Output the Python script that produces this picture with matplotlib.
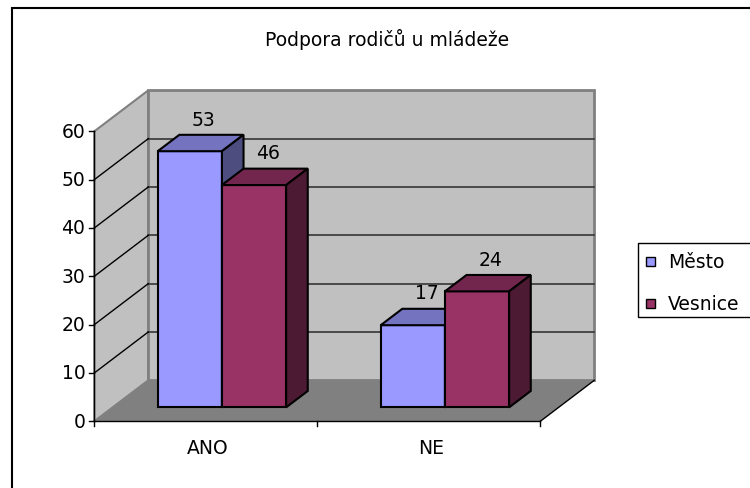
import matplotlib
matplotlib.use("Agg")
import matplotlib.pyplot as plt
from matplotlib.patches import Polygon, Rectangle
from matplotlib.lines import Line2D

# ---- data ----
title = "Podpora rodičů u mládeže"
categories = ["ANO", "NE"]
series_names = ["Město", "Vesnice"]
mesto = [53, 17]
vesnice = [46, 24]
y_ticks = [0, 10, 20, 30, 40, 50, 60]

front_colors = ["#9999FF", "#993366"]
top_colors = ["#7373BF", "#73264D"]
side_colors = ["#4D4D80", "#4D1A33"]

W, H = 750, 489
fig = plt.figure(figsize=(W / 100, H / 100), dpi=100)
ax = fig.add_axes([0, 0, 1, 1])

# pixel mapping of the front plane: x px = 94.3 + x*223 ; y px(from bottom) = 66.7 + v*4.833
px_x0, px_xs = 94.3, 223.0
px_y0, px_ys = 489 - 422.3, 4.833
ax.set_xlim(-px_x0 / px_xs, (W - px_x0) / px_xs)
ax.set_ylim(-px_y0 / px_ys, (H - px_y0) / px_ys)
ax.axis("off")

DX = 54 / px_xs   # full depth offset in x units
DY = 41 / px_ys   # full depth offset in value units
ymax = y_ticks[-1]
ncat = len(categories)


def P(x, y, d):
    return (x + d * DX, y + d * DY)


FS = 13.5
FONT = "DejaVu Sans"

# ---- walls ----
wall = "#C0C0C0"
edge = "#808080"
# left wall
ax.add_patch(Polygon([P(0, 0, 0), P(0, ymax, 0), P(0, ymax, 1), P(0, 0, 1)],
                     closed=True, fc=wall, ec=edge, lw=1.5, zorder=1))
# back wall
ax.add_patch(Polygon([P(0, 0, 1), P(ncat, 0, 1), P(ncat, ymax, 1), P(0, ymax, 1)],
                     closed=True, fc=wall, ec=edge, lw=2, zorder=1))
# floor
ax.add_patch(Polygon([P(0, 0, 0), P(ncat, 0, 0), P(ncat, 0, 1), P(0, 0, 1)],
                     closed=True, fc="#808080", ec="none", lw=0, zorder=1.5))
ax.plot(*zip(P(ncat, 0, 0), P(ncat, 0, 1)), color="black", lw=1, zorder=1.6)

# gridlines
for v in y_ticks[1:-1]:
    ax.plot(*zip(P(0, v, 1), P(ncat, v, 1)), color="#404040", lw=1.3, zorder=1.2)
for v in y_ticks[1:-1]:
    ax.plot(*zip(P(0, v, 0), P(0, v, 1)), color="black", lw=1, zorder=1.2)

# axes lines
ax.plot([0, 0], [0, ymax], color="black", lw=1, zorder=5)
ax.plot([0, ncat], [0, 0], color="black", lw=1, zorder=5)
tick_len_x = 5 / px_xs
tick_len_y = 5 / px_ys
for v in y_ticks:
    ax.plot([-tick_len_x, 0], [v, v], color="black", lw=1, zorder=5)
    ax.text(-9 / px_xs, v, str(v), ha="right", va="center", fontsize=FS,
            family=FONT, zorder=6)
for i in range(ncat + 1):
    ax.plot([i, i], [0, -tick_len_y], color="black", lw=1, zorder=5)
for i, c in enumerate(categories):
    ax.text(i + 0.51, -26 / px_ys, c, ha="center", va="center", fontsize=FS,
            family=FONT, zorder=6)

# ---- bars ----
bw = 0.288
d0, d1 = 0.34, 0.74
for i in range(ncat):
    center = i + 0.49
    for s, vals in enumerate([mesto, vesnice]):
        v = vals[i]
        x0 = center - bw + s * bw
        x1 = x0 + bw
        z = 10 + i * 3 + s
        ax.add_patch(Polygon([P(x0, 0, d0), P(x1, 0, d0), P(x1, v, d0), P(x0, v, d0)],
                             closed=True, fc=front_colors[s], ec="black", lw=1.5,
                             joinstyle="miter", zorder=z))
        ax.add_patch(Polygon([P(x0, v, d0), P(x1, v, d0), P(x1, v, d1), P(x0, v, d1)],
                             closed=True, fc=top_colors[s], ec="black", lw=1.5,
                             joinstyle="miter", zorder=z))
        ax.add_patch(Polygon([P(x1, 0, d0), P(x1, 0, d1), P(x1, v, d1), P(x1, v, d0)],
                             closed=True, fc=side_colors[s], ec="black", lw=1.5,
                             joinstyle="miter", zorder=z))
        lx, ly = P((x0 + x1) / 2, v, (d0 + d1) / 2)
        ax.text(lx + 3 / px_xs, ly + 24 / px_ys, str(v), ha="center", va="center",
                fontsize=FS, family=FONT, zorder=30)

# ---- title ----
fig.text(387 / W, 1 - 39 / H, title, ha="center", va="center", fontsize=FS,
         family=FONT)

# ---- legend (manual) ----
fig.patches.append(Rectangle((638 / W, 1 - 318 / H), 130 / W, 74 / H,
                             transform=fig.transFigure, fc="white", ec="black",
                             lw=1, zorder=20))
leg_y = [262.5, 304.5]
for s, name in enumerate(series_names):
    yc = leg_y[s]
    fig.patches.append(Rectangle((646 / W, 1 - (yc + 4.5) / H), 9 / W, 9 / H,
                                 transform=fig.transFigure, fc=front_colors[s],
                                 ec="black", lw=1, zorder=21))
    fig.text(668 / W, 1 - yc / H, name, ha="left", va="center", fontsize=FS,
             family=FONT, zorder=22)

# ---- chart border ----
fig.patches.append(Rectangle((12 / W, -0.1), 1.2, 1 - 9 / H + 0.1,
                             transform=fig.transFigure, fc="none", ec="black",
                             lw=1.5, zorder=50))

fig.savefig("out.png", dpi=100)
